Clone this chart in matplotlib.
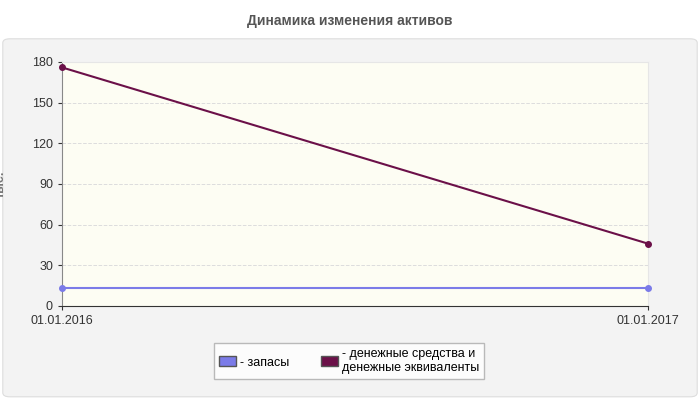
import matplotlib
matplotlib.use("Agg")
import matplotlib.pyplot as plt
from matplotlib.patches import FancyBboxPatch

plt.rcParams['font.family'] = ['Liberation Sans', 'DejaVu Sans']

dates = ["01.01.2016", "01.01.2017"]
zapasy = [13, 13]
den = [176, 46]
yticks = [0, 30, 60, 90, 120, 150, 180]

fig = plt.figure(figsize=(7, 4), dpi=100)
fig.patch.set_facecolor("white")
bg = FancyBboxPatch((0.004, 0.008), 0.992, 0.895, boxstyle="round,pad=0,rounding_size=0.01",
                    transform=fig.transFigure, facecolor="#f3f3f3", edgecolor="#dddddd", lw=0.8,
                    zorder=-10)
fig.patches.append(bg)
fig.text(0.5, 0.948, "Динамика изменения активов", ha="center", va="center",
         fontsize=10, fontweight="bold", color="#555555")

ax = fig.add_axes([62/700, 1-306/400, 586/700, 244/400])
ax.set_facecolor("#fdfdf3")
x = [0, 1]
ax.plot(x, zapasy, color="#7b7be8", lw=1.5, marker="o", ms=4, zorder=3, clip_on=False)
ax.plot(x, den, color="#6b1048", lw=1.5, marker="o", ms=4, zorder=3, clip_on=False)
ax.set_xlim(0, 1)
ax.set_ylim(0, 180)
ax.set_yticks(yticks)
ax.set_xticks(x)
ax.set_xticklabels(dates)
ax.tick_params(labelsize=9, colors="#333333", length=3)
ax.grid(axis="y", color="#dddddd", ls="--", lw=0.7)
for s in ["top", "right"]:
    ax.spines[s].set_color("#e6e6e6")
ax.spines["left"].set_color("#888888")
ax.spines["bottom"].set_color("#333333")
ax.set_ylabel("тыс.", color="#777777", fontsize=9, fontweight="bold", labelpad=18)

leg = fig.legend(handles=[plt.Rectangle((0, 0), 1, 1, fc="#7b7be8", ec="#555"),
                          plt.Rectangle((0, 0), 1, 1, fc="#6b1048", ec="#555")],
                 labels=["- запасы", "- денежные средства и\nденежные эквиваленты"],
                 loc="center", bbox_to_anchor=(349/700, 1-361/400), ncol=2, fontsize=9,
                 frameon=True, fancybox=False, edgecolor="#aaaaaa", handlelength=1.4,
                 handleheight=0.8, columnspacing=2.5, handletextpad=0.3)
leg.get_frame().set_facecolor("white")
fig.savefig("out.png", dpi=100)
